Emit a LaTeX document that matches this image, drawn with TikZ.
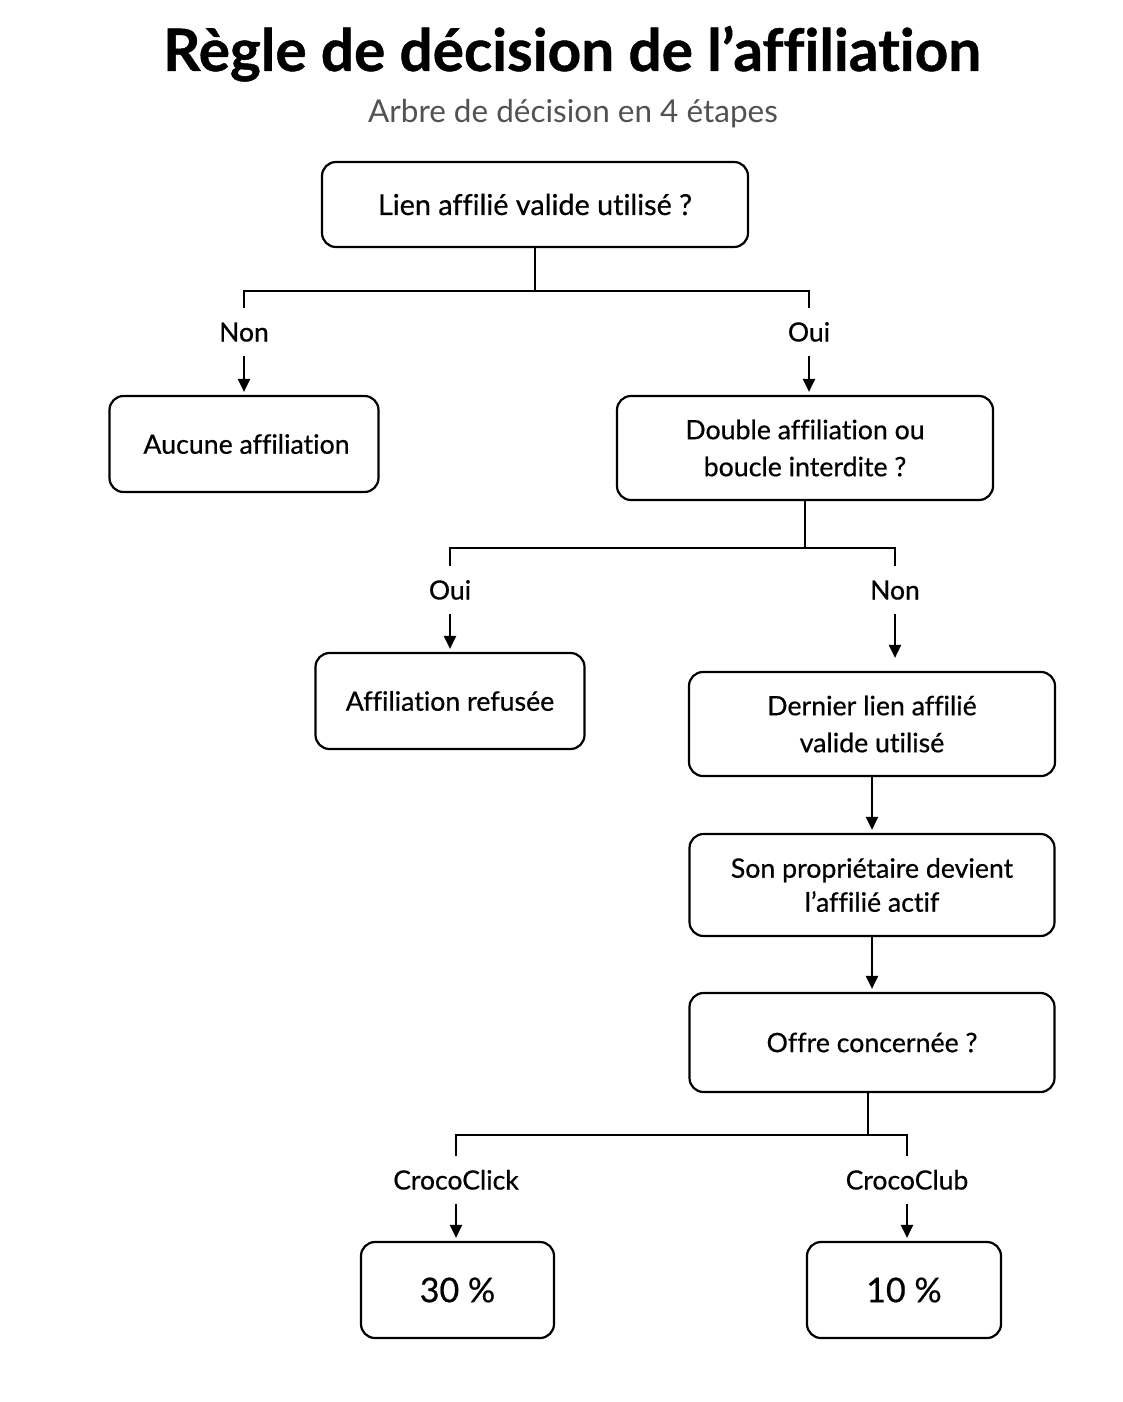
\documentclass[tikz,border=0pt]{standalone}
\usepackage{fontspec}
\setmainfont{Lato}[Ligatures=NoCommon]
\newfontfamily\medfont{Lato}[FakeBold=0.6,Ligatures=NoCommon]
\newfontfamily\titlefont{Lato}[FakeBold=0.8,Ligatures=NoCommon]
\usetikzlibrary{arrows.meta}
\begin{document}
\begin{tikzpicture}[x=1pt,y=-1pt,
  box/.style={draw=black,line width=2.2pt,rounded corners=14pt,align=center,
    font=\medfont\fontsize{26.7}{37}\selectfont,inner sep=0pt},
  lbl/.style={inner xsep=2pt,inner ysep=14pt,text height=19pt,text depth=0pt,
    font=\medfont\fontsize{26.5}{30}\selectfont},
  line/.style={line width=2.2pt},
  arr/.style={line width=2.2pt,-{Triangle[length=13pt,width=12pt]},shorten >=3pt}]
\useasboundingbox[fill=white] (0,0) rectangle (1122,1402);
\node[font=\titlefont\fontsize{58.5}{64}\selectfont\bfseries,anchor=base] (title) at (572,71) {Règle de décision de l’affiliation};
\node[font=\fontsize{31.5}{36}\selectfont,text=black!68,anchor=base] (sub) at (573,123) {Arbre de décision en 4 étapes};

\node[box,minimum width=426pt,minimum height=85pt,font=\medfont\fontsize{28.8}{37}\selectfont] (b1) at (535,204.5) {Lien affilié valide utilisé ?};
\node[box,minimum width=269pt,minimum height=96pt] (b2) at (244,444) {\hspace*{5pt}Aucune affiliation};
\node[box,minimum width=376pt,minimum height=104pt] (b3) at (805,448) {Double affiliation ou\\boucle interdite ?};
\node[box,minimum width=269pt,minimum height=96pt] (b4) at (450,701) {Affiliation refusée};
\node[box,minimum width=366pt,minimum height=104pt] (b5) at (872,724) {Dernier lien affilié\\valide utilisé};
\node[box,minimum width=365pt,minimum height=102pt,font=\medfont\fontsize{26.7}{34}\selectfont] (b6) at (872,885) {Son propriétaire devient\\l’affilié actif};
\node[box,minimum width=365pt,minimum height=99pt] (b7) at (872,1042.5) {Offre concernée ?};
\node[box,minimum width=193pt,minimum height=96pt,font=\medfont\fontsize{34}{38}\selectfont] (b8) at (457.5,1290) {30 \%};
\node[box,minimum width=194pt,minimum height=96pt,font=\medfont\fontsize{34}{38}\selectfont] (b9) at (904,1290) {10 \%};

\node[lbl] (n1) at (244,332) {Non};
\node[lbl] (o1) at (809,332) {Oui};
\node[lbl] (o2) at (450,590) {Oui};
\node[lbl] (n2) at (895,590) {Non};
\node[lbl] (c1) at (456,1180) {CrocoClick};
\node[lbl] (c2) at (907,1180) {CrocoClub};

\coordinate (j1) at (0,291);
\coordinate (j2) at (0,548);
\coordinate (j3) at (0,1135);

\draw[line] (b1.south) -- (b1.south |- j1);
\draw[line] (n1.north) -- (n1.north |- j1) -- (o1.north |- j1) -- (o1.north);
\draw[arr] (n1.south) -- (n1.south |- b2.north);
\draw[arr] (o1.south) -- (o1.south |- b3.north);

\draw[line] (b3.south) -- (b3.south |- j2);
\draw[line] (o2.north) -- (o2.north |- j2) -- (n2.north |- j2) -- (n2.north);
\draw[arr] (o2.south) -- (o2.south |- b4.north);
\draw[arr] (n2.south) -- ([yshift=10pt]n2.south |- b5.north);

\draw[arr] (b5) -- (b6);
\draw[arr] (b6) -- (b7);

\draw[line] ([xshift=-4pt]b7.south) -- ([xshift=-4pt]b7.south |- j3);
\draw[line] (c1.north) -- (c1.north |- j3) -- (c2.north |- j3) -- (c2.north);
\draw[arr] (c1.south) -- (c1.south |- b8.north);
\draw[arr] (c2.south) -- (c2.south |- b9.north);
\end{tikzpicture}
\end{document}
